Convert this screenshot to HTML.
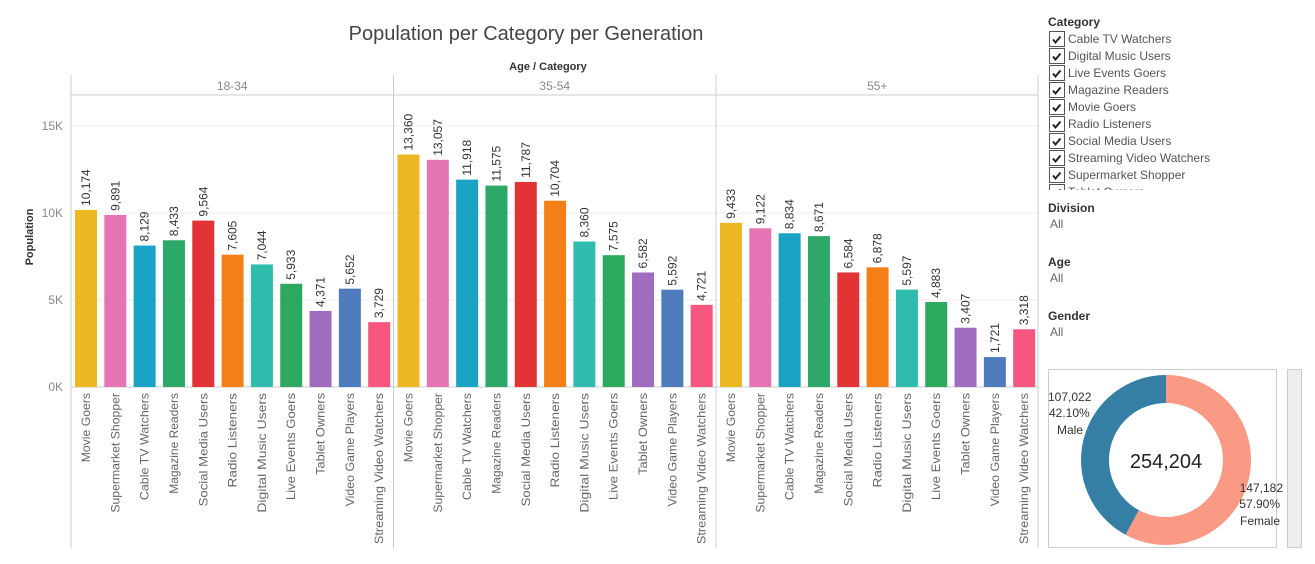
<!DOCTYPE html>
<html><head><meta charset="utf-8">
<style>
body{margin:0;background:#fff;font-family:"Liberation Sans",sans-serif;}
svg text{font-family:"Liberation Sans",sans-serif;}
</style></head>
<body>
<svg width="1315" height="559" xmlns="http://www.w3.org/2000/svg">
<text x="526" y="40" text-anchor="middle" font-size="20" fill="#444">Population per Category per Generation</text>
<text x="548" y="70" text-anchor="middle" font-size="11" font-weight="bold" fill="#333">Age / Category</text>
<text transform="translate(33,237) rotate(-90)" text-anchor="middle" font-size="11" font-weight="bold" fill="#333">Population</text>
<g id="chart"></g>
<g id="side"></g>
</svg>
<script>
const ages = ["18-34","35-54","55+"];
const categories = ["Movie Goers","Supermarket Shopper","Cable TV Watchers","Magazine Readers","Social Media Users","Radio Listeners","Digital Music Users","Live Events Goers","Tablet Owners","Video Game Players","Streaming Video Watchers"];
const values18 = [10174,9891,8129,8433,9564,7605,7044,5933,4371,5652,3729];
const values35 = [13360,13057,11918,11575,11787,10704,8360,7575,6582,5592,4721];
const values55 = [9433,9122,8834,8671,6584,6878,5597,4883,3407,1721,3318];
const yTicks = [0,5000,10000,15000];
const yTickLabels = ["0K","5K","10K","15K"];
const colors = ["#ebb722","#e574b4","#1ba3c6","#2ca868","#e23336","#f57f17","#30bcad","#2ca85f","#a06cc0","#4d7bbb","#f7577f"];
const maleValue = 107022, femaleValue = 147182;
const filterItems = ["Cable TV Watchers","Digital Music Users","Live Events Goers","Magazine Readers","Movie Goers","Radio Listeners","Social Media Users","Streaming Video Watchers","Supermarket Shopper","Tablet Owners"];

const NS="http://www.w3.org/2000/svg";
const g=document.getElementById('chart');
function el(tag,attrs,parent,txt){const e=document.createElementNS(NS,tag);for(const k in attrs)e.setAttribute(k,attrs[k]);if(txt!==undefined)e.textContent=txt;(parent||g).appendChild(e);return e;}
const y0=387, left=71, pw=322.5;
const y=v=>y0-v*(261/15000);
const fmt=v=>v.toLocaleString('en-US');
yTicks.forEach((t,i)=>{
  const ln=el('line',{x1:left,x2:1038,y1:y(t),y2:y(t),stroke:t===0?'#ccc':'#eee'});
  
  
  const tx=el('text',{x:left-8,y:y(t)+4,'text-anchor':'end','font-size':12,fill:'#888'},g,yTickLabels[i]);
  
  
});
el('line',{x1:left,x2:left,y1:75,y2:548,stroke:'#ccc'});
el('line',{x1:left,x2:1038,y1:95,y2:95,stroke:'#ccc'});
const series=[values18,values35,values55];
ages.forEach((a,p)=>{
  const px=left+p*pw;
  if(p>0){el('line',{x1:px,x2:px,y1:75,y2:548,stroke:'#ccc'});}
  const h=el('text',{x:px+pw/2,y:90,'text-anchor':'middle','font-size':12,fill:'#888'},g,a);
  
  
  const step=pw/11;
  series[p].forEach((v,i)=>{
    const bx=px+4+i*step;
    const r=el('rect',{x:bx,y:y(v),width:22,height:y0-y(v),fill:colors[i]});
    
    
    const cx=bx+11;
    const lt=el('text',{transform:`translate(${cx+4},${y(v)-4}) rotate(-90)`,'font-size':12,fill:'#333'},g,fmt(v));
    
    
    const ct=el('text',{transform:`translate(${cx+4},393) rotate(-90)`,'text-anchor':'end','font-size':12,'textLength':categories[i].length*6.3,'lengthAdjust':'spacingAndGlyphs',fill:'#666'},g,categories[i]);
    
    
  });
});
el('line',{x1:1038,x2:1038,y1:75,y2:548,stroke:'#ccc'});
const s=document.getElementById('side');
const t1=el('text',{x:1048,y:26,'font-size':12,'font-weight':'bold',fill:'#333'},s,'Category');


const clip=el('clipPath',{id:'fc'},s);el('rect',{x:1040,y:30,width:260,height:160},clip);
const fg=el('g',{'clip-path':'url(#fc)'},s);
filterItems.forEach((f,i)=>{
  const yy=31+i*17;
  const b=el('rect',{x:1049.5,y:yy+0.5,width:15,height:15,fill:'#fff',stroke:'#555'},fg);
  
  
  el('path',{d:`M${1053},${yy+8.5} l2.5,3 l5,-6`,fill:'none',stroke:'#222','stroke-width':2},fg);
  const lt=el('text',{x:1068,y:yy+12,'font-size':12,fill:'#555'},fg,f);
  
  
});
[["Division",212],["Age",266],["Gender",320]].forEach(([n,yy])=>{
  const a=el('text',{x:1048,y:yy,'font-size':12,'font-weight':'bold',fill:'#333'},s,n);
  
  
  const b=el('text',{x:1050,y:yy+16,'font-size':12,fill:'#666'},s,'All');
  
  
});
el('rect',{x:1048.5,y:369.5,width:228,height:178,fill:'#fff',stroke:'#ccc'},s);
el('rect',{x:1287.5,y:369.5,width:14,height:178,fill:'#eee',stroke:'#ccc'},s);
const cx=1166,cy=460,R=85,r=57,tot=maleValue+femaleValue;
function arc(a0,a1,col,name){
  const p=(a,rad)=>[cx+rad*Math.sin(a),cy-rad*Math.cos(a)];
  const [x1,y1]=p(a0,R),[x2,y2]=p(a1,R),[x3,y3]=p(a1,r),[x4,y4]=p(a0,r);
  const lg=(a1-a0)>Math.PI?1:0;
  const e=el('path',{d:`M${x1},${y1}A${R},${R} 0 ${lg} 1 ${x2},${y2}L${x3},${y3}A${r},${r} 0 ${lg} 0 ${x4},${y4}Z`,fill:col},s);
  
  
}
const fa=femaleValue/tot*2*Math.PI;
arc(0,fa,'#fa9a85','female-slice');
arc(fa,2*Math.PI,'#347fa3','male-slice');
const c=el('text',{x:cx,y:cy+8,'text-anchor':'middle','font-size':20,fill:'#222'},s,fmt(tot));


[[fmt(maleValue),1048,401,'start'],[(maleValue/tot*100).toFixed(2)+'%',1049,417,'start'],['Male',1057,434,'start'],
 [fmt(femaleValue),1283,492,'end'],[(femaleValue/tot*100).toFixed(2)+'%',1280,508,'end'],['Female',1280,525,'end']].forEach(([t,x,yy,an])=>{
  const e=el('text',{x:x,y:yy,'text-anchor':an,'font-size':12,fill:'#333'},s,t);
  
  
});
</script>
</body></html>
